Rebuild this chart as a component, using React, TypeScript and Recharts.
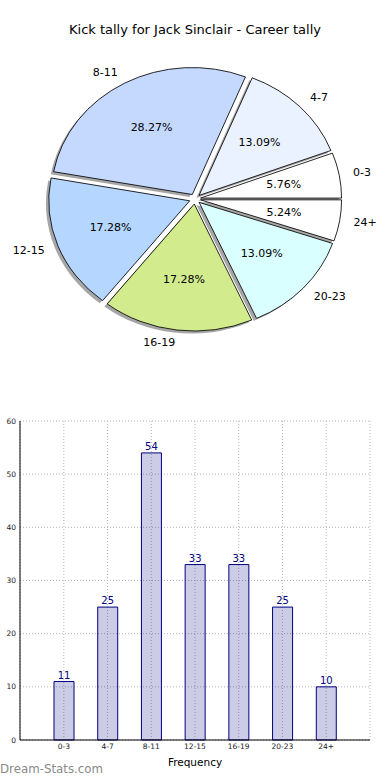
import React from "react";
import {
  Bar,
  BarChart,
  CartesianGrid,
  Cell,
  LabelList,
  Pie,
  PieChart,
  XAxis,
  YAxis,
} from "recharts";

const CATEGORIES = ["0-3", "4-7", "8-11", "12-15", "16-19", "20-23", "24+"];
const KICKS = [11, 25, 54, 33, 33, 25, 10];
const Y_TICKS = [0, 10, 20, 30, 40, 50, 60];

const SLICE_COLORS = [
  "#ffffff",
  "#ebf2ff",
  "#c5d9ff",
  "#b4d6ff",
  "#d1eb8d",
  "#daffff",
  "#ffffff",
];

const FONT = "'DejaVu Sans', sans-serif";
const NAVY = "#000080";

// pie geometry (matplotlib style: elliptical axes, exploded slices)
const CX = 195;
const CY = 199;
const RX = 141;
const RY = 127;
const EXPLODE = 0.04;
const RAD = Math.PI / 180;

const data = CATEGORIES.map((name, i) => ({ name, value: KICKS[i] }));
const total = KICKS.reduce((a, b) => a + b, 0);
const midAngles = KICKS.map((v, i) => {
  const before = KICKS.slice(0, i).reduce((a, b) => a + b, 0);
  return ((before + v / 2) / total) * 360;
});

function sliceTransform(mid: number, shadow: boolean) {
  const dx = EXPLODE * RX * Math.cos(mid * RAD) + (shadow ? -2.8 : 0);
  const dy = -EXPLODE * RY * Math.sin(mid * RAD) + (shadow ? 2.5 : 0);
  return `translate(${CX + dx} ${CY + dy}) scale(${RX / RY} 1) translate(${-CX} ${-CY})`;
}

function renderLabel(props: any) {
  const { midAngle, percent, name } = props;
  const c = Math.cos(midAngle * RAD);
  const s = Math.sin(midAngle * RAD);
  const ox = CX + EXPLODE * RX * c;
  const oy = CY - EXPLODE * RY * s;
  return (
    <g>
      <text
        x={ox + 1.1 * RX * c}
        y={oy - 1.1 * RY * s}
        textAnchor={c >= 0 ? "start" : "end"}
        dominantBaseline="central"
        fontFamily={FONT}
        fontSize={11}
        fill="#000"
      >
        {name}
      </text>
      <text
        x={ox + 0.6 * RX * c}
        y={oy - 0.6 * RY * s}
        textAnchor="middle"
        dominantBaseline="central"
        fontFamily={FONT}
        fontSize={11}
        fill="#000"
      >
        {`${(percent * 100).toFixed(2)}%`}
      </text>
    </g>
  );
}

export default function App() {
  return (
    <div
      style={{
        position: "absolute",
        left: 0,
        top: 0,
        width: 390,
        height: 780,
        background: "#fff",
        fontFamily: FONT,
      }}
    >
      <div
        style={{
          position: "absolute",
          top: 22,
          width: 390,
          textAlign: "center",
          fontSize: 13,
          color: "#000",
        }}
      >
        Kick tally for Jack Sinclair - Career tally
      </div>

      <div style={{ position: "absolute", left: 0, top: 0 }}>
        <PieChart
          width={390}
          height={390}
          margin={{ top: 0, right: 0, bottom: 0, left: 0 }}
        >
          <Pie
            data={data}
            dataKey="value"
            nameKey="name"
            cx={CX}
            cy={CY}
            outerRadius={RY}
            startAngle={0}
            endAngle={360}
            stroke="none"
            isAnimationActive={false}
          >
            {data.map((d, i) => (
              <Cell
                key={d.name}
                fill="#4d4d4d"
                fillOpacity={0.5}
                transform={sliceTransform(midAngles[i], true)}
              />
            ))}
          </Pie>
          <Pie
            data={data}
            dataKey="value"
            nameKey="name"
            cx={CX}
            cy={CY}
            outerRadius={RY}
            startAngle={0}
            endAngle={360}
            stroke="#000"
            strokeWidth={0.8}
            label={renderLabel}
            labelLine={false}
            isAnimationActive={false}
          >
            {data.map((d, i) => (
              <Cell
                key={d.name}
                fill={SLICE_COLORS[i]}
                transform={sliceTransform(midAngles[i], false)}
              />
            ))}
          </Pie>
        </PieChart>
      </div>

      <div style={{ position: "absolute", left: 0, top: 410 }}>
        <BarChart
          width={390}
          height={370}
          data={data}
          margin={{ top: 11, right: 20, bottom: 0, left: 0 }}
        >
          <CartesianGrid stroke="#b5b5b5" strokeDasharray="1 2" />
          <XAxis
            dataKey="name"
            padding={{ left: 22, right: 22 }}
            tickLine={false}
            tickSize={2}
            tickMargin={2}
            axisLine={{ stroke: "#000" }}
            tick={{ fontSize: 7.5, fill: "#222", fontFamily: FONT }}
            height={40}
            label={{
              value: "Frequency",
              position: "insideBottom",
              offset: 14,
              fontSize: 10.5,
              fill: "#000",
              fontFamily: FONT,
            }}
          />
          <XAxis
            xAxisId="top"
            orientation="top"
            dataKey="name"
            tick={false}
            tickLine={false}
            height={0}
            axisLine={{ stroke: "#000" }}
          />
          <YAxis
            domain={[0, 60]}
            ticks={Y_TICKS}
            width={20}
            tickLine={false}
            tickSize={3}
            tickMargin={1}
            axisLine={{ stroke: "#000" }}
            tick={{ fontSize: 7.5, fill: "#222", fontFamily: FONT }}
          />
          <YAxis
            yAxisId="right"
            orientation="right"
            width={0}
            tick={false}
            tickLine={false}
            axisLine={{ stroke: "#000" }}
          />
          <Bar
            dataKey="value"
            fill={NAVY}
            fillOpacity={0.2}
            stroke={NAVY}
            strokeWidth={1}
            barSize={20}
            isAnimationActive={false}
          >
            <LabelList
              dataKey="value"
              position="top"
              offset={3}
              fill={NAVY}
              fontSize={10}
              fontFamily={FONT}
            />
          </Bar>
        </BarChart>
      </div>

      <div
        style={{
          position: "absolute",
          left: 0,
          top: 762,
          fontSize: 11.8,
          color: "#8a8a8a",
        }}
      >
        Dream-Stats.com
      </div>
    </div>
  );
}
